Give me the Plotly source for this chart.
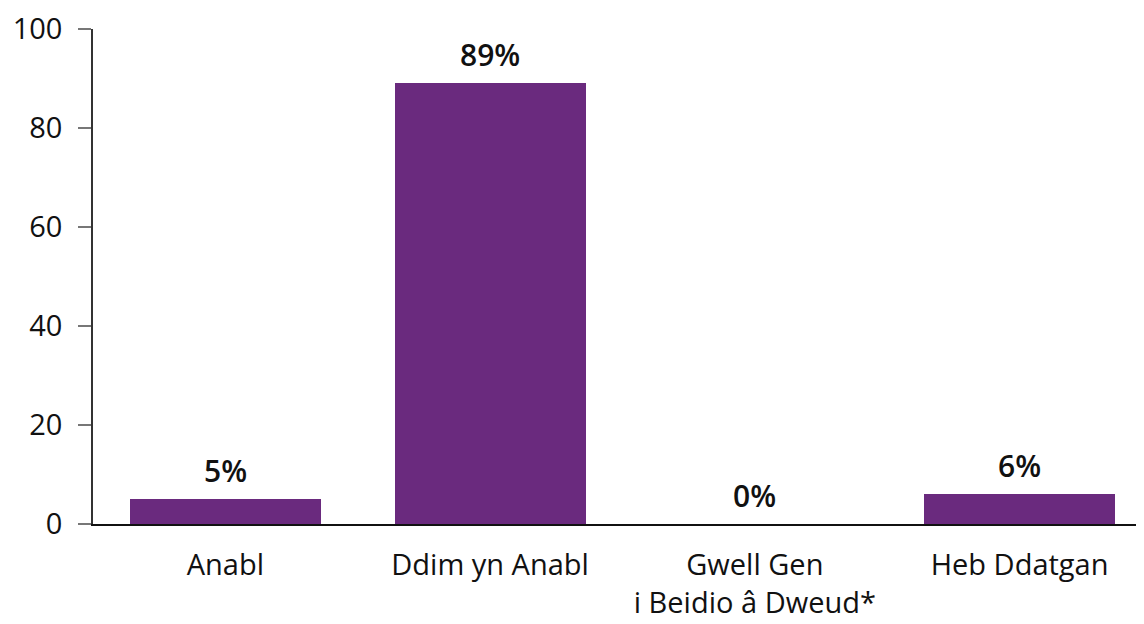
import plotly.graph_objects as go

categories = ["Anabl", "Ddim yn Anabl", "Gwell Gen<br>i Beidio â Dweud*", "Heb Ddatgan"]
values = [5, 89, 0, 6]
labels = ["5%", "89%", "0%", "6%"]
y_ticks = [0, 20, 40, 60, 80, 100]

FONT = "Open Sans"

fig = go.Figure()
fig.add_trace(go.Bar(
    x=categories, y=values, width=0.7217,
    marker=dict(color="#6A2A7E", line=dict(width=0)),
    hoverinfo="skip",
))

for c, v, t in zip(categories, values, labels):
    fig.add_annotation(x=c, y=v, text=t, showarrow=False, yanchor="bottom",
                       yshift=6, font=dict(family=FONT, size=30, color="#111", weight=600),
                       )

fig.update_layout(
    width=1136, height=616,
    margin=dict(l=85, r=0, t=12, b=100),
    paper_bgcolor="white", plot_bgcolor="white",
    showlegend=False,
    font=dict(family=FONT, size=29, color="#111"),
    bargap=0,
)
fig.update_xaxes(
    range=[-0.5, 3.47],
    showline=True, linecolor="#111", linewidth=2,
    ticks="", showgrid=False, zeroline=False,
    ticklabelstandoff=14,
    tickfont=dict(family=FONT, size=29, color="#111"),
)
fig.update_yaxes(
    range=[0, 100], tickvals=y_ticks,
    showline=True, linecolor="#333", linewidth=1.5,
    ticks="outside", ticklen=13, tickcolor="#777", tickwidth=1.5,
    showgrid=False, zeroline=False,
    ticklabelstandoff=10, ticklabeloverflow="allow",
    tickfont=dict(family=FONT, size=29, color="#111"),
)

fig.write_html("out.html")
